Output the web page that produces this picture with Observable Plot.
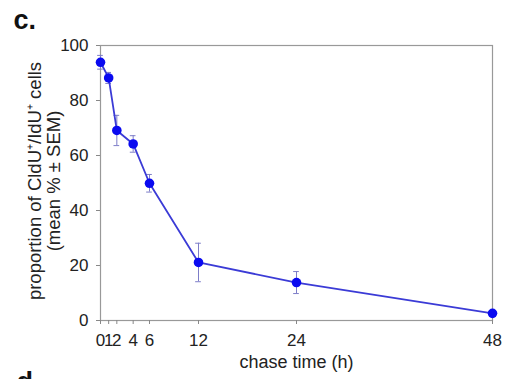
<!DOCTYPE html>
<html><head><meta charset="utf-8">
<script src="https://cdn.jsdelivr.net/npm/d3@7"></script>
<script src="https://cdn.jsdelivr.net/npm/@observablehq/plot@0.6"></script>
<style>
body{margin:0;background:#fff;}
#chart svg{font-family:"Liberation Sans",Arial,sans-serif;display:block;}
</style></head>
<body><div id="chart"></div>
<script>
const hours = [0, 1, 2, 4, 6, 12, 24, 48];
const meanPct = [93.9, 88.2, 69.1, 64.2, 49.9, 21.1, 13.8, 2.6];
const semPct = [2.5, 2.0, 5.5, 3.0, 3.2, 7.0, 4.0, 0.6];
const xTicks = [0, 1, 2, 4, 6, 12, 24, 48];
const yTicks = [0, 20, 40, 60, 80, 100];

const data = hours.map((h, i) => ({h, m: meanPct[i], s: semPct[i]}));
const capHalf = 0.35;
const errColor = "#7d7dc8";

const chart = Plot.plot({
  width: 515, height: 379,
  marginLeft: 100, marginRight: 23, marginTop: 45, marginBottom: 59,
  style: {fontSize: "17px", color: "#222", background: "#fff", overflow: "visible"},
  x: {domain: [0, 48], label: null},
  y: {domain: [0, 100], label: null},
  marks: [
    Plot.frame({stroke: "#999", strokeWidth: 1.2}),
    Plot.axisX({ticks: xTicks, tickSize: 4, tickPadding: 9, stroke: "#888", fill: "#222", fontSize: 17, label: null}),
    Plot.axisY({ticks: yTicks, tickSize: 4, tickPadding: 8, stroke: "#888", fill: "#222", fontSize: 17, label: null}),
    Plot.ruleX(data, {x: "h", y1: d => d.m - d.s, y2: d => d.m + d.s, stroke: errColor, strokeWidth: 1}),
    Plot.ruleY(data, {y: d => d.m + d.s, x1: d => d.h - capHalf, x2: d => d.h + capHalf, stroke: errColor, strokeWidth: 1}),
    Plot.ruleY(data, {y: d => d.m - d.s, x1: d => d.h - capHalf, x2: d => d.h + capHalf, stroke: errColor, strokeWidth: 1}),
    Plot.line(data, {x: "h", y: "m", stroke: "#3b3bd6", strokeWidth: 1.8}),
    Plot.dot(data, {x: "h", y: "m", r: 4.8, fill: "#0a0af0", stroke: "none"}),
    Plot.text(["chase time (h)"], {frameAnchor: "bottom", dy: 42, fontSize: 18, fill: "#222", lineAnchor: "middle", text: d => d}),
    Plot.text(["proportion of CldU⁺/IdU⁺ cells"], {frameAnchor: "left", dx: -65, dy: -2, rotate: -90, fontSize: 18.5, fill: "#222", textAnchor: "middle", lineAnchor: "middle", text: d => d}),
    Plot.text(["(mean % ± SEM)"], {frameAnchor: "left", dx: -46, dy: -2, rotate: -90, fontSize: 18.5, fill: "#222", textAnchor: "middle", lineAnchor: "middle", text: d => d}),
    Plot.text(["c."], {frameAnchor: "top-left", dx: -87, dy: -17, fontSize: 27, fontWeight: "bold", fill: "#111", textAnchor: "start", lineAnchor: "bottom", text: d => d}),
    Plot.text(["d."], {frameAnchor: "bottom-left", dx: -84, dy: 70, fontSize: 27, fontWeight: "bold", fill: "#111", textAnchor: "start", lineAnchor: "bottom", text: d => d})
  ]
});
document.getElementById("chart").appendChild(chart);
</script></body></html>
